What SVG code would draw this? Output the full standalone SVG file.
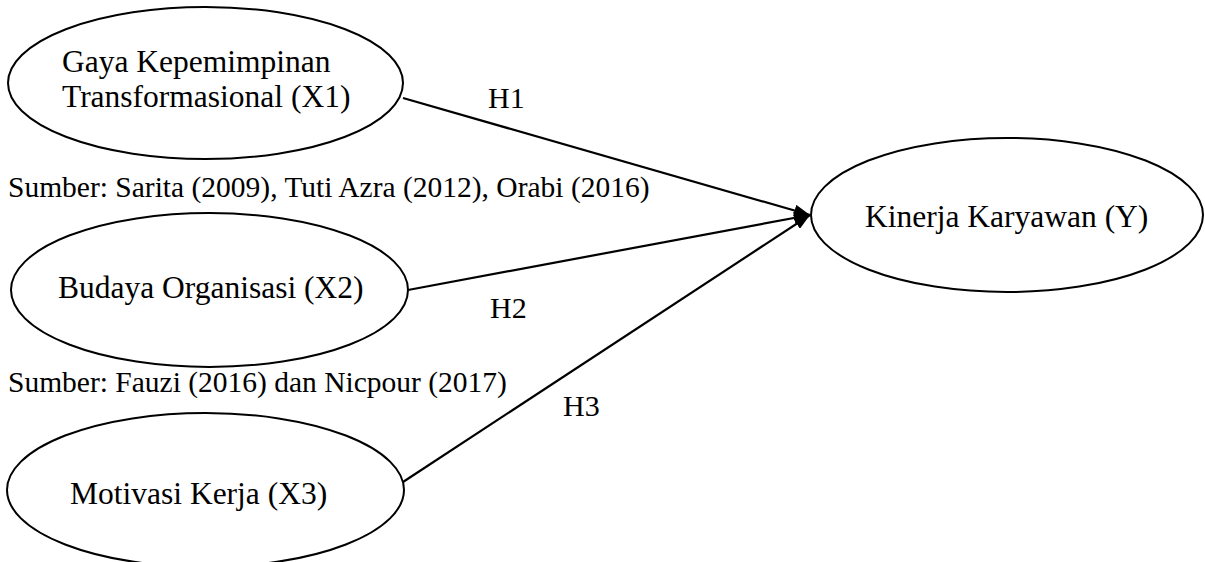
<svg xmlns="http://www.w3.org/2000/svg" width="1205" height="562" viewBox="0 0 1205 562">
<style>
.node{fill:#fff;stroke:#000;stroke-width:2}
.lbl{font-family:"Liberation Serif","Times New Roman",serif;font-size:31.5px;fill:#000}
.src{font-family:"Liberation Serif","Times New Roman",serif;font-size:29.5px;fill:#000}
.h{font-family:"Liberation Serif","Times New Roman",serif;font-size:30px;fill:#000}
.edge{stroke:#000;stroke-width:2.2;fill:none;marker-end:url(#arr)}
</style>
<defs>
<marker id="arr" markerUnits="userSpaceOnUse" markerWidth="16" markerHeight="12" refX="16" refY="6" orient="auto">
<path d="M0,0 L16,6 L0,12 z" fill="#000"/>
</marker>
</defs>
<rect width="1205" height="562" fill="#fff"/>
<g id="connectors">
<line class="edge" x1="403" y1="98" x2="810" y2="215"/>
<line class="edge" x1="408" y1="290" x2="810" y2="215"/>
<line class="edge" x1="403" y1="482" x2="810" y2="215"/>
</g>
<g id="x1">
<ellipse class="node" cx="205.5" cy="83" rx="197.5" ry="76"/>
<text class="lbl" x="62" y="72">Gaya Kepemimpinan</text>
<text class="lbl" x="62" y="107">Transformasional (X1)</text>
</g>
<g id="x2">
<ellipse class="node" cx="209.5" cy="290" rx="198.5" ry="77"/>
<text class="lbl" x="58" y="298">Budaya Organisasi (X2)</text>
</g>
<g id="x3">
<ellipse class="node" cx="205.5" cy="490" rx="198.5" ry="77"/>
<text class="lbl" x="70" y="504">Motivasi Kerja (X3)</text>
</g>
<g id="y">
<ellipse class="node" cx="1007" cy="215" rx="196" ry="77"/>
<text class="lbl" x="865" y="227">Kinerja Karyawan (Y)</text>
</g>
<g id="sources">
<text class="src" x="8" y="197">Sumber: Sarita (2009), Tuti Azra (2012), Orabi (2016)</text>
<text class="src" x="8" y="392">Sumber: Fauzi (2016) dan Nicpour (2017)</text>
</g>
<g id="edge-labels">
<text class="h" x="488" y="108">H1</text>
<text class="h" x="490" y="318">H2</text>
<text class="h" x="563" y="416">H3</text>
</g>
</svg>
